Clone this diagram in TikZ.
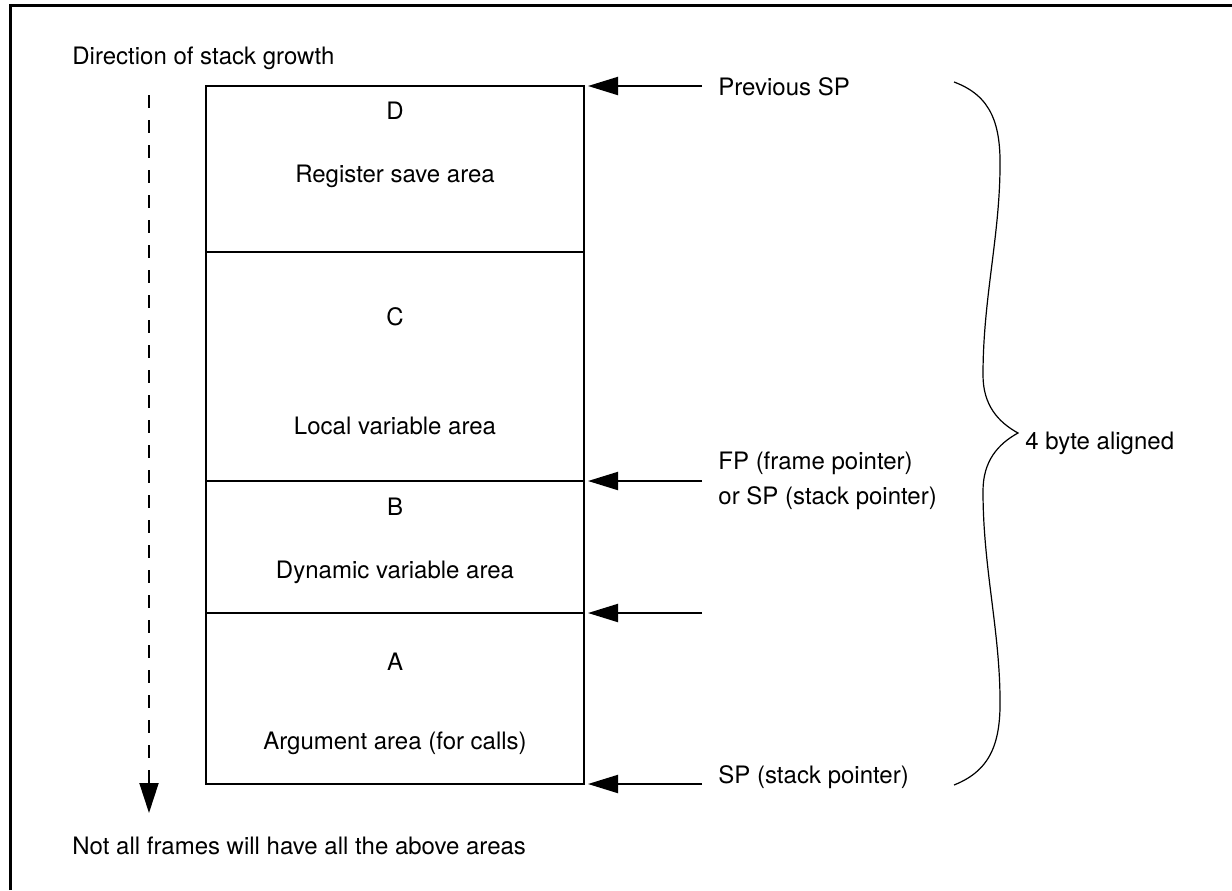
\documentclass[tikz,border=0pt]{standalone}
\usepackage{fontspec}
\setmainfont{TeX Gyre Heros}
\usetikzlibrary{positioning,arrows.meta}

\tikzset{
  area/.style={draw, line width=1pt, minimum width=189pt, inner sep=0pt, outer sep=0pt},
  ptr/.style={-{Triangle[length=15pt,width=9pt]}, line width=1pt, shorten >=2pt},
  lbl/.style={inner sep=0pt, font=\fontsize{12}{17.5}\selectfont},
}

\begin{document}
\begin{tikzpicture}[x=0.5pt, y=-0.5pt]
    \useasboundingbox (0,0) rectangle (1232,890);

    % Cornice (visibili solo il lato superiore e quello sinistro)
    \draw[line width=1.5pt] (10,890) -- (10,5) -- (1232,5);

    % Aree del frame, impilate dall'alto verso il basso
    \node[area, minimum height=83pt, anchor=north west] (D) at (206,86) {};
    \node[area, minimum height=114.5pt, below=0pt of D] (C) {};
    \node[area, minimum height=66pt, below=0pt of C] (B) {};
    \node[area, minimum height=85.5pt, below=0pt of B] (A) {};

    % Testi dentro le aree
    \foreach \n/\y/\t in {Dl/119/D, Dt/182/Register save area,
                          Cl/325/C, Ct/434/Local variable area,
                          Bl/515/B, Bt/578/Dynamic variable area,
                          Al/670/A, At/749/Argument area (for calls)}
        \node[lbl, anchor=base] (\n) at (395,\y) {\t};

    % Puntatori a destra (frecce verso i bordi delle aree)
    \coordinate (pprev) at (702,86);
    \coordinate (pfp) at (702,481);
    \coordinate (pmid) at (702,613);
    \coordinate (psp) at (702,784);
    \draw[ptr] (pprev) -- (D.north east);
    \draw[ptr] (pfp) -- (C.south east);
    \draw[ptr] (pmid) -- (B.south east);
    \draw[ptr] (psp) -- (A.south east);

    \node[lbl, anchor=base west] (prev) at (718,95) {Previous SP};
    \node[lbl, anchor=base west] (fp) at (718,469) {FP (frame pointer)};
    \node[lbl, anchor=base west] (orsp) at (718,504) {or SP (stack pointer)};
    \node[lbl, anchor=base west] (sp) at (718,783) {SP (stack pointer)};

    % Direzione di crescita dello stack (linea tratteggiata a sinistra)
    \node[lbl, anchor=base west] (dir) at (72,64) {Direction of stack growth};
    \coordinate (gtop) at (149,95);
    \coordinate (gbot) at (149,813);
    \draw[line width=1pt, dash pattern=on 6.5pt off 6pt,
          -{Triangle[length=15pt,width=9.5pt]}] (gtop) -- (gbot);
    \node[lbl, anchor=base west] (note) at (72,854) {Not all frames will have all the above areas};

    % Graffa di allineamento
    \coordinate (btop) at (954,82);
    \coordinate (bbot) at (954,785);
    \coordinate (btip) at (1018,433);
    \draw[line width=0.6pt] (btop) .. controls (992,96) and (1001,125) .. (1000,170)
        .. controls (999,240) and (983,300) .. (983,375)
        .. controls (983,405) and (998,422) .. (btip)
        .. controls (998,444) and (983,461) .. (983,491)
        .. controls (983,566) and (999,626) .. (1000,696)
        .. controls (1001,741) and (992,770) .. (bbot);
    \node[lbl, anchor=base west] (align) at (1025,449) {4 byte aligned};
\end{tikzpicture}
\end{document}
